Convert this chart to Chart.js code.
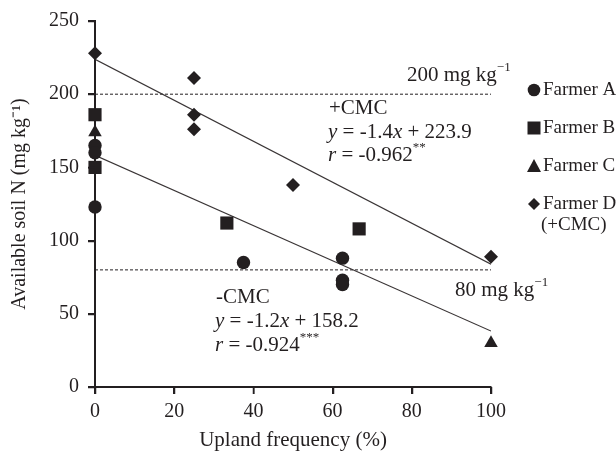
<!DOCTYPE html>
<html>
<head>
<meta charset="utf-8">
<script src="https://cdn.jsdelivr.net/npm/chart.js@4/dist/chart.umd.min.js"></script>
<style>
  html, body { margin: 0; padding: 0; background: #fff; }
  #wrap { width: 616px; height: 451px; }
</style>
</head>
<body>
<div id="wrap"><canvas id="soilChart" width="616" height="451"></canvas></div>
<script>
const INK = "#231f20";
const FONT = "'Liberation Serif', 'Times New Roman', serif";

// data
const farmers = ["Farmer A", "Farmer B", "Farmer C", "Farmer D"];
const markers = ["circle", "rect", "triangle", "rectRot"];
const markerSize = [6.7, 9.3, 7.8, 7];

const farmerAX = [0, 0, 0, 37.5, 62.5, 62.5, 62.5];
const farmerAY = [165, 160, 123, 85, 88, 73, 70];
const farmerBX = [0, 0, 33.3, 66.7];
const farmerBY = [186, 150, 112, 108];
const farmerCX = [0, 100];
const farmerCY = [174, 30];
const farmerDX = [0, 25, 25, 25, 50, 100];
const farmerDY = [228, 211, 186, 176, 138, 89];

// regression lines: +CMC, -CMC
const fitSlope = [-1.4, -1.2];
const fitIntercept = [223.9, 158.2];
const fitRange = [0, 100];

// reference levels (mg kg-1)
const thresholds = [200, 80];

const xTicks = [0, 20, 40, 60, 80, 100];
const yTicks = [0, 50, 100, 150, 200, 250];

const pts = (xs, ys) => xs.map((x, i) => ({ x, y: ys[i] }));
const farmerData = [
  pts(farmerAX, farmerAY),
  pts(farmerBX, farmerBY),
  pts(farmerCX, farmerCY),
  pts(farmerDX, farmerDY),
];

const datasets = [];
thresholds.forEach((t) => {
  datasets.push({
    type: "line",
    data: fitRange.map((x) => ({ x, y: t })),
    borderColor: INK,
    borderWidth: 1,
    borderDash: [3, 2],
    pointRadius: 0,
    order: 3,
  });
});
fitSlope.forEach((m, i) => {
  datasets.push({
    type: "line",
    data: fitRange.map((x) => ({ x, y: m * x + fitIntercept[i] })),
    borderColor: "#3a3536",
    borderWidth: 1.2,
    pointRadius: 0,
    order: 2,
  });
});
farmers.forEach((name, i) => {
  datasets.push({
    type: "scatter",
    label: name,
    data: farmerData[i],
    pointStyle: markers[i],
    pointRadius: markerSize[i],
    pointBackgroundColor: INK,
    pointBorderColor: INK,
    pointBorderWidth: 0,
    clip: false,
    order: 1,
  });
});

// rich text: [text, style] where style is n (normal), i (italic), s (superscript)
function drawRich(ctx, x, y, parts, size) {
  ctx.textBaseline = "middle";
  ctx.textAlign = "left";
  let cx = x;
  parts.forEach(([txt, st]) => {
    if (st === "i") ctx.font = "italic " + size + "px " + FONT;
    else if (st === "s") ctx.font = Math.round(size * 0.6) + "px " + FONT;
    else ctx.font = size + "px " + FONT;
    ctx.fillText(txt, cx, st === "s" ? y - size * 0.33 : y);
    cx += ctx.measureText(txt).width;
  });
}

function drawMarker(ctx, style, x, y) {
  ctx.beginPath();
  if (style === "circle") {
    ctx.arc(x, y, 6.3, 0, Math.PI * 2);
  } else if (style === "rect") {
    ctx.rect(x - 6.5, y - 6.5, 13, 13);
  } else if (style === "triangle") {
    ctx.moveTo(x, y - 7);
    ctx.lineTo(x + 7, y + 6);
    ctx.lineTo(x - 7, y + 6);
    ctx.closePath();
  } else {
    ctx.moveTo(x, y - 6);
    ctx.lineTo(x + 6, y);
    ctx.lineTo(x, y + 6);
    ctx.lineTo(x - 6, y);
    ctx.closePath();
  }
  ctx.fill();
}

const notesPlugin = {
  id: "notes",
  afterDraw(chart) {
    const ctx = chart.ctx;
    const xs = chart.scales.x;
    const ys = chart.scales.y;
    ctx.save();
    ctx.fillStyle = INK;
    ctx.strokeStyle = INK;
    ctx.lineWidth = 1.5;

    // outward tick marks
    ctx.beginPath();
    xTicks.forEach((v) => {
      const px = Math.round(xs.getPixelForValue(v)) + 0.5;
      ctx.moveTo(px, ys.bottom);
      ctx.lineTo(px, ys.bottom + 7);
    });
    yTicks.forEach((v) => {
      const py = Math.round(ys.getPixelForValue(v)) + 0.5;
      ctx.moveTo(xs.left - 7, py);
      ctx.lineTo(xs.left, py);
    });
    ctx.stroke();

    drawRich(ctx, 407, 75, [["200 mg kg", "n"], ["\u22121", "s"]], 21);
    drawRich(ctx, 329, 108, [["+CMC", "n"]], 21);
    drawRich(ctx, 328, 132, [["y", "i"], [" = -1.4", "n"], ["x", "i"], [" + 223.9", "n"]], 21);
    drawRich(ctx, 328, 155, [["r", "i"], [" = -0.962", "n"], ["**", "s"]], 21);

    drawRich(ctx, 455, 290, [["80 mg kg", "n"], ["\u22121", "s"]], 21);
    drawRich(ctx, 216, 297, [["-CMC", "n"]], 21);
    drawRich(ctx, 215, 321, [["y", "i"], [" = -1.2", "n"], ["x", "i"], [" + 158.2", "n"]], 21);
    drawRich(ctx, 215, 345, [["r", "i"], [" = -0.924", "n"], ["***", "s"]], 21);

    // legend
    const legY = [90, 128, 166, 204];
    farmers.forEach((name, i) => {
      drawMarker(ctx, markers[i], 534, legY[i]);
      drawRich(ctx, 543, legY[i], [[name, "n"]], 19);
    });
    drawRich(ctx, 541, 225, [["(+CMC)", "n"]], 19);
    ctx.restore();
  },
};

new Chart(document.getElementById("soilChart").getContext("2d"), {
  data: { datasets },
  options: {
    responsive: false,
    animation: false,
    layout: { padding: { top: 21, right: 125, left: 0, bottom: 0 } },
    plugins: {
      legend: { display: false },
      tooltip: { enabled: false },
    },
    scales: {
      x: {
        type: "linear",
        min: 0,
        max: 100,
        afterFit: (s) => { s.height = 64; },
        afterBuildTicks: (s) => { s.ticks = xTicks.map((v) => ({ value: v })); },
        border: { color: INK, width: 2 },
        grid: { drawOnChartArea: false, drawTicks: true, tickLength: 7, tickColor: INK, color: INK, lineWidth: 1.5 },
        ticks: { color: INK, font: { family: FONT, size: 20 }, padding: 6, maxRotation: 0, autoSkip: false },
        title: {
          display: true,
          text: "Upland frequency (%)",
          color: INK,
          font: { family: FONT, size: 21 },
          padding: { top: 0, bottom: -2 },
        },
      },
      y: {
        type: "linear",
        min: 0,
        max: 250,
        afterFit: (s) => { s.width = 95; },
        afterBuildTicks: (s) => { s.ticks = yTicks.map((v) => ({ value: v })); },
        border: { color: INK, width: 2 },
        grid: { drawOnChartArea: false, drawTicks: true, tickLength: 7, tickColor: INK, color: INK, lineWidth: 1.5 },
        ticks: { color: INK, font: { family: FONT, size: 20 }, padding: 9 },
        title: {
          display: true,
          text: "Available soil N (mg kg\u207B\u00B9)",
          color: INK,
          font: { family: FONT, size: 20 },
          padding: { top: 8, bottom: 0 },
        },
      },
    },
  },
  plugins: [notesPlugin],
});
</script>
</body>
</html>
